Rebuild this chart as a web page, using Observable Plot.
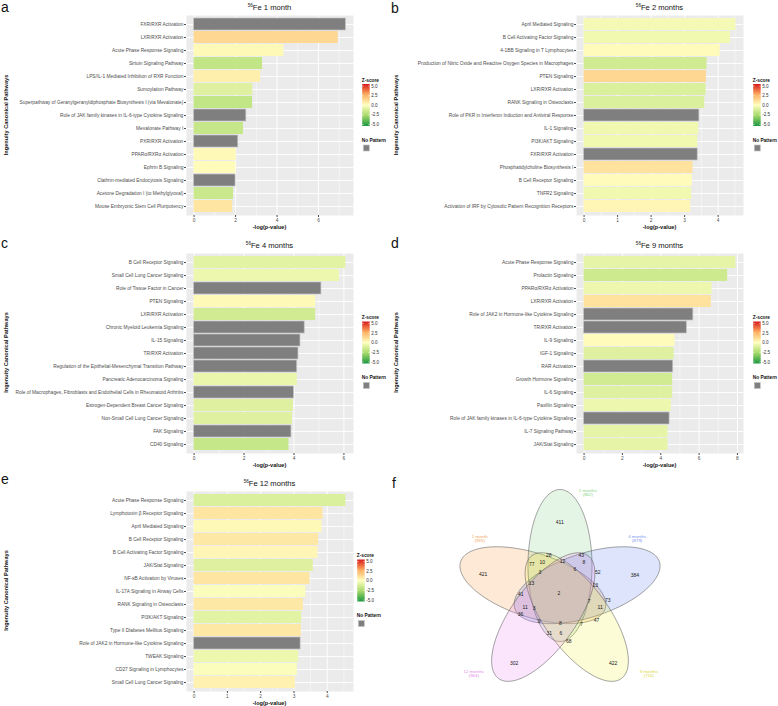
<!DOCTYPE html>
<html><head><meta charset="utf-8">
<script src="https://cdn.jsdelivr.net/npm/d3@7"></script>
<script src="https://cdn.jsdelivr.net/npm/@observablehq/plot@0.6"></script>
<style>
html,body{margin:0;padding:0;background:#fff;}
#fig{position:relative;width:778px;height:706px;overflow:hidden;background:#fff;}
</style></head><body><div id="fig"></div>
<script>
// ---------------- DATA ----------------
const namesA = ["FXR/RXR Activation","LXR/RXR Activation","Acute Phase Response Signaling","Sirtuin Signaling Pathway","LPS/IL-1 Mediated Inhibition of RXR Function","Sumoylation Pathway","Superpathway of Geranylgeranyldiphosphate Biosynthesis I (via Mevalonate)","Role of JAK family kinases in IL-6-type Cytokine Signaling","Mevalonate Pathway I","PXR/RXR Activation","PPARα/RXRα Activation","Ephrin B Signaling","Clathrin-mediated Endocytosis Signaling","Acetone Degradation I (to Methylglyoxal)","Mouse Embryonic Stem Cell Pluripotency"];
const logpA = [7.32, 6.95, 4.33, 3.30, 3.21, 2.83, 2.82, 2.52, 2.38, 2.13, 2.03, 2.02, 2.00, 1.90, 1.86];
const zA = [null, 1.2, 0.2, -1.7, 0.5, -0.9, -1.7, null, -1.6, null, 0.2, 0.1, null, -1.5, 0.8];
const ticksA = [0, 2, 4, 6];

const namesB = ["April Mediated Signaling","B Cell Activating Factor Signaling","4-1BB Signaling in T Lymphocytes","Production of Nitric Oxide and Reactive Oxygen Species in Macrophages","PTEN Signaling","LXR/RXR Activation","RANK Signaling in Osteoclasts","Role of PKR in Interferon Induction and Antiviral Response","IL-1 Signaling","PI3K/AKT Signaling","FXR/RXR Activation","Phosphatidylcholine Biosynthesis I","B Cell Receptor Signaling","TNFR2 Signaling","Activation of IRF by Cytosolic Pattern Recognition Receptors"];
const logpB = [4.53, 4.37, 4.06, 3.67, 3.65, 3.64, 3.60, 3.44, 3.42, 3.39, 3.39, 3.25, 3.23, 3.21, 3.18];
const zB = [-0.3, -0.4, 0.1, -1.3, 1.2, -1.0, -1.0, null, -0.4, -0.4, null, 0.9, 0.1, -0.4, 0.3];
const ticksB = [0, 1, 2, 3, 4];

const namesC = ["B Cell Receptor Signaling","Small Cell Lung Cancer Signaling","Role of Tissue Factor in Cancer","PTEN Signaling","LXR/RXR Activation","Chronic Myeloid Leukemia Signaling","IL-15 Signaling","TR/RXR Activation","Regulation of the Epithelial-Mesenchymal Transition Pathway","Pancreatic Adenocarcinoma Signaling","Role of Macrophages, Fibroblasts and Endothelial Cells in Rheumatoid Arthritis","Estrogen-Dependent Breast Cancer Signaling","Non-Small Cell Lung Cancer Signaling","FAK Signaling","CD40 Signaling"];
const logpC = [6.08, 5.82, 5.10, 4.87, 4.87, 4.43, 4.26, 4.18, 4.13, 4.13, 4.00, 3.98, 3.94, 3.90, 3.80];
const zC = [-0.8, -0.5, null, 0.2, -1.3, null, null, null, null, -0.6, null, -0.9, -0.9, null, -1.6];
const ticksC = [0, 2, 4, 6];

const namesD = ["Acute Phase Response Signaling","Prolactin Signaling","PPARα/RXRα Activation","LXR/RXR Activation","Role of JAK2 in Hormone-like Cytokine Signaling","TR/RXR Activation","IL-9 Signaling","IGF-1 Signaling","RAR Activation","Growth Hormone Signaling","IL-6 Signaling","Paxillin Signaling","Role of JAK family kinases in IL-6-type Cytokine Signaling","IL-7 Signaling Pathway","JAK/Stat Signaling"];
const logpD = [7.92, 7.49, 6.68, 6.64, 5.70, 5.36, 4.74, 4.70, 4.65, 4.62, 4.62, 4.55, 4.46, 4.38, 4.38];
const zD = [-0.7, -1.4, -0.5, 0.9, null, null, 0.1, -0.9, null, -1.3, -0.9, -0.5, null, -0.7, -0.7];
const ticksD = [0, 2, 4, 6, 8];

const namesE = ["Acute Phase Response Signaling","Lymphotoxin β Receptor Signaling","April Mediated Signaling","B Cell Receptor Signaling","B Cell Activating Factor Signaling","JAK/Stat Signaling","NF-κB Activation by Viruses","IL-17A Signaling in Airway Cells","RANK Signaling in Osteoclasts","PI3K/AKT Signaling","Type II Diabetes Mellitus Signaling","Role of JAK2 in Hormone-like Cytokine Signaling","TWEAK Signaling","CD27 Signaling in Lymphocytes","Small Cell Lung Cancer Signaling"];
const logpE = [4.56, 3.87, 3.84, 3.74, 3.72, 3.58, 3.48, 3.36, 3.28, 3.23, 3.22, 3.20, 3.14, 3.10, 3.04];
const zE = [-1.0, 0.8, 0.2, 0.7, 0.3, -0.9, 0.8, -0.1, 0.7, -0.8, 0.7, null, -0.5, -0.1, 0.4];
const ticksE = [0, 1, 2, 3, 4];

const titles = ["1 month", "2 months", "4 months", "9 months", "12 months"];
const legendBreaks = [5.0, 2.5, 0.0, -2.5, -5.0];

const vennSets = ["1 month", "2 months", "4 months", "9 months", "12 months"];
const vennTotals = [955, 862, 879, 716, 964];
const vennCounts = [411, 28, 43, 77, 10, 12, 8, 52, 421, 3, 6, 384, 13, 13, 41, 2, 73, 7, 11, 3, 11, 36, 9, 8, 7, 47, 31, 6, 68, 302, 422];

// ---------------- LAYOUT ----------------
const FONT = '"Liberation Sans", Arial, Helvetica, sans-serif';
const zScale = {type: "linear", domain: [-5, -2.5, 0, 2.5, 5], range: ["#1a9641", "#a6d96a", "#ffffbf", "#fdae61", "#d7191c"], interpolate: "rgb", clamp: true};
const panels = [
  {names: namesA, logp: logpA, z: zA, ticks: ticksA, ox: 0, oy: 0, letter: "a", title: titles[0], lx: 361.7},
  {names: namesB, logp: logpB, z: zB, ticks: ticksB, ox: 390, oy: 0, letter: "b", title: titles[1], lx: 362.7},
  {names: namesC, logp: logpC, z: zC, ticks: ticksC, ox: 0, oy: 237.5, letter: "c", title: titles[2], lx: 361.7},
  {names: namesD, logp: logpD, z: zD, ticks: ticksD, ox: 390, oy: 237.5, letter: "d", title: titles[3], lx: 362.7},
  {names: namesE, logp: logpE, z: zE, ticks: ticksE, ox: 0, oy: 475.5, letter: "e", title: titles[4], lx: 356.7}
];
const fig = document.getElementById("fig");

let colorScale = null;
function barPanel(p) {
  const data = p.names.map((name, i) => ({name, v: p.logp[i], z: p.z[i]}));
  const max = d3.max(p.logp);
  const lo = -0.05 * max, hi = 1.05 * max;
  const step = p.ticks[1] - p.ticks[0];
  const minor = d3.range(p.ticks[0] + step / 2, hi, step);
  const svg = Plot.plot({
    width: 389, height: 230,
    marginLeft: 186, marginRight: 36, marginTop: 15, marginBottom: 15,
    style: {fontFamily: FONT, fontSize: "4.8px", background: "transparent", overflow: "visible"},
    x: {domain: [lo, hi], label: null},
    y: {domain: p.names, padding: 0.1, label: null},
    color: zScale,
    marks: [
      Plot.frame({fill: "#ebebeb", stroke: "none"}),
      Plot.gridX(minor, {stroke: "#ffffff", strokeOpacity: 1, strokeWidth: 0.45}),
      Plot.gridX(p.ticks, {stroke: "#ffffff", strokeOpacity: 1, strokeWidth: 0.9}),
      Plot.gridY(p.names, {stroke: "#ffffff", strokeOpacity: 1, strokeWidth: 0.9}),
      Plot.barX(data.filter(d => d.z == null), {x: "v", y: "name", fill: "#7f7f7f", stroke: "#c4c4c4", strokeWidth: 0.7}),
      Plot.barX(data.filter(d => d.z != null), {x: "v", y: "name", fill: "z"}),
      Plot.axisX(p.ticks, {tickSize: 2, tickPadding: 1.2, fontSize: 4.8, color: "#4d4d4d", label: null}),
      Plot.axisY({tickSize: 2, tickPadding: 1.2, fontSize: 4.8, color: "#4d4d4d", label: null})
    ]
  });
  svg.style.position = "absolute";
  svg.style.left = p.ox + "px";
  svg.style.top = p.oy + "px";
  fig.appendChild(svg);
  if (!colorScale) colorScale = svg.scale("color");
}
panels.forEach(barPanel);

// ---------------- VENN (panel f) ----------------
const vennLayout = {cx: 169.5, cy: 133.5, d: 28.5, A: 76, B: 32, angles: [-162, -90, -18, 54, 126]};
const vennFills = ["#f39230", "#7dcd7d", "#5578eb", "#f2f237", "#e67df0"];
const vennTextColors = ["#f3a55c", "#86d486", "#7b96ef", "#dcd63a", "#e68ae8"];
const vennLabelXY = [[89.3, 76], [197.3, 30], [246.7, 76], [258.3, 211], [83.3, 211]];
const vennCountXY = [[169.3,62],[158.3,94.7],[190.7,94.7],[141.3,104],[151.7,102],[172,101.3],[193.3,102],[207.3,112],[92.7,113.7],[149.3,112.3],[184.3,108.7],[244.3,114.7],[141,123],[204.7,125.3],[130.3,134.3],[168.3,133.3],[217.3,140],[198.7,141.3],[134.7,147.3],[143.7,148.3],[209.7,147.3],[130,154],[148.7,160.7],[170,163.3],[191,163.7],[206,160],[158.7,173],[170.3,173.3],[178.3,181],[123.7,203],[222.7,203.3]];

const ellipsePts = [];
vennSets.forEach((s, i) => {
  const th = vennLayout.angles[i] * Math.PI / 180;
  const ex = vennLayout.cx + vennLayout.d * Math.cos(th), ey = vennLayout.cy + vennLayout.d * Math.sin(th);
  for (let k = 0; k < 144; k++) {
    const t = k / 144 * 2 * Math.PI;
    ellipsePts.push({set: s,
      x: ex + vennLayout.A * Math.cos(t) * Math.cos(th) - vennLayout.B * Math.sin(t) * Math.sin(th),
      y: ey + vennLayout.A * Math.cos(t) * Math.sin(th) + vennLayout.B * Math.sin(t) * Math.cos(th)});
  }
});
const countData = vennCounts.map((n, i) => ({n, x: vennCountXY[i][0], y: vennCountXY[i][1]}));
const setLabelData = vennSets.map((s, i) => ({text: s + "\n(" + vennTotals[i] + ")", x: vennLabelXY[i][0], y: vennLabelXY[i][1] + 2.2, c: vennTextColors[i]}));

const venn = Plot.plot({
  width: 388, height: 246, margin: 0,
  style: {fontFamily: FONT, background: "transparent", overflow: "visible"},
  x: {domain: [0, 388], range: [0, 388], axis: null},
  y: {domain: [0, 246], range: [0, 246], axis: null},
  marks: [
    ...vennSets.map((s, i) => Plot.line(ellipsePts.filter(p => p.set === s), {x: "x", y: "y", curve: "linear-closed", fill: vennFills[i], fillOpacity: 0.2, stroke: "#5a5a5a", strokeWidth: 0.55})),
    Plot.text(countData, {x: "x", y: "y", text: "n", fontSize: 5, fill: "#1a1a1a"}),
    Plot.text(setLabelData, {x: "x", y: "y", text: "text", fontSize: 4.4, lineHeight: 1.05, fill: d => d.c})
  ]
});
venn.style.position = "absolute";
venn.style.left = "390px";
venn.style.top = "460px";
fig.appendChild(venn);

// ---------------- ANNOTATIONS ----------------
const ov = d3.select(fig).append("svg")
  .attr("width", 778).attr("height", 706)
  .style("position", "absolute").style("left", 0).style("top", 0)
  .style("font-family", FONT);

const grad = ov.append("defs").append("linearGradient").attr("id", "zgrad")
  .attr("x1", 0).attr("y1", 0).attr("x2", 0).attr("y2", 1);
d3.range(0, 21).forEach(k => {
  const z = 5 - k * 0.5;
  grad.append("stop").attr("offset", (k / 20 * 100) + "%").attr("stop-color", colorScale.apply(z));
});

const letterBase = {a: [1, 11.5], b: [391, 12.5], c: [1, 248.3], d: [391, 248.3], e: [1, 484.3], f: [392, 488.3]};
Object.entries(letterBase).forEach(([l, [x, y]]) => {
  ov.append("text").attr("x", x).attr("y", y).attr("font-size", 14).attr("fill", "#111").text(l);
});

panels.forEach(p => {
  const g = ov.append("g").attr("transform", `translate(${p.ox},${p.oy})`);
  const t = g.append("text").attr("x", 269.5).attr("y", 10).attr("text-anchor", "middle").attr("fill", "#111");
  t.append("tspan").attr("font-size", 4.6).attr("dy", -3).text("56");
  t.append("tspan").attr("font-size", 7.6).attr("dy", 3).text("Fe " + p.title);
  g.append("text").attr("transform", "translate(8,115) rotate(-90)").attr("text-anchor", "middle")
    .attr("font-size", 5.6).attr("font-weight", "bold").attr("fill", "#111").text("Ingenuity Canonical Pathways");
  g.append("text").attr("x", 269.5).attr("y", 229).attr("text-anchor", "middle")
    .attr("font-size", 5.6).attr("font-weight", "bold").attr("fill", "#111").text("-log(p-value)");
  // legend
  const lg = g.append("g").attr("transform", `translate(${p.lx},0)`);
  lg.append("text").attr("x", 0).attr("y", 81.5).attr("font-size", 4.8).attr("font-weight", "bold").attr("fill", "#111").text("Z-score");
  lg.append("rect").attr("x", 0.5).attr("y", 84).attr("width", 7.5).attr("height", 42).attr("fill", "url(#zgrad)");
  const by = d3.scaleLinear().domain([5, -5]).range([86, 124.5]);
  legendBreaks.forEach(b => {
    lg.append("line").attr("x1", 0.5).attr("x2", 2).attr("y1", by(b)).attr("y2", by(b)).attr("stroke", "#fff").attr("stroke-width", 0.5);
    lg.append("line").attr("x1", 6.5).attr("x2", 8).attr("y1", by(b)).attr("y2", by(b)).attr("stroke", "#fff").attr("stroke-width", 0.5);
    lg.append("text").attr("x", 9.5).attr("y", by(b)).attr("dy", "0.35em").attr("font-size", 4.6).attr("fill", "#333").text(b.toFixed(1));
  });
  lg.append("text").attr("x", 0).attr("y", 141.5).attr("font-size", 4.8).attr("font-weight", "bold").attr("fill", "#111").text("No Pattern");
  lg.append("rect").attr("x", 1.6).attr("y", 145).attr("width", 6).attr("height", 6).attr("fill", "#7f7f7f").attr("stroke", "#c4c4c4").attr("stroke-width", 0.7);
});
</script></body></html>
